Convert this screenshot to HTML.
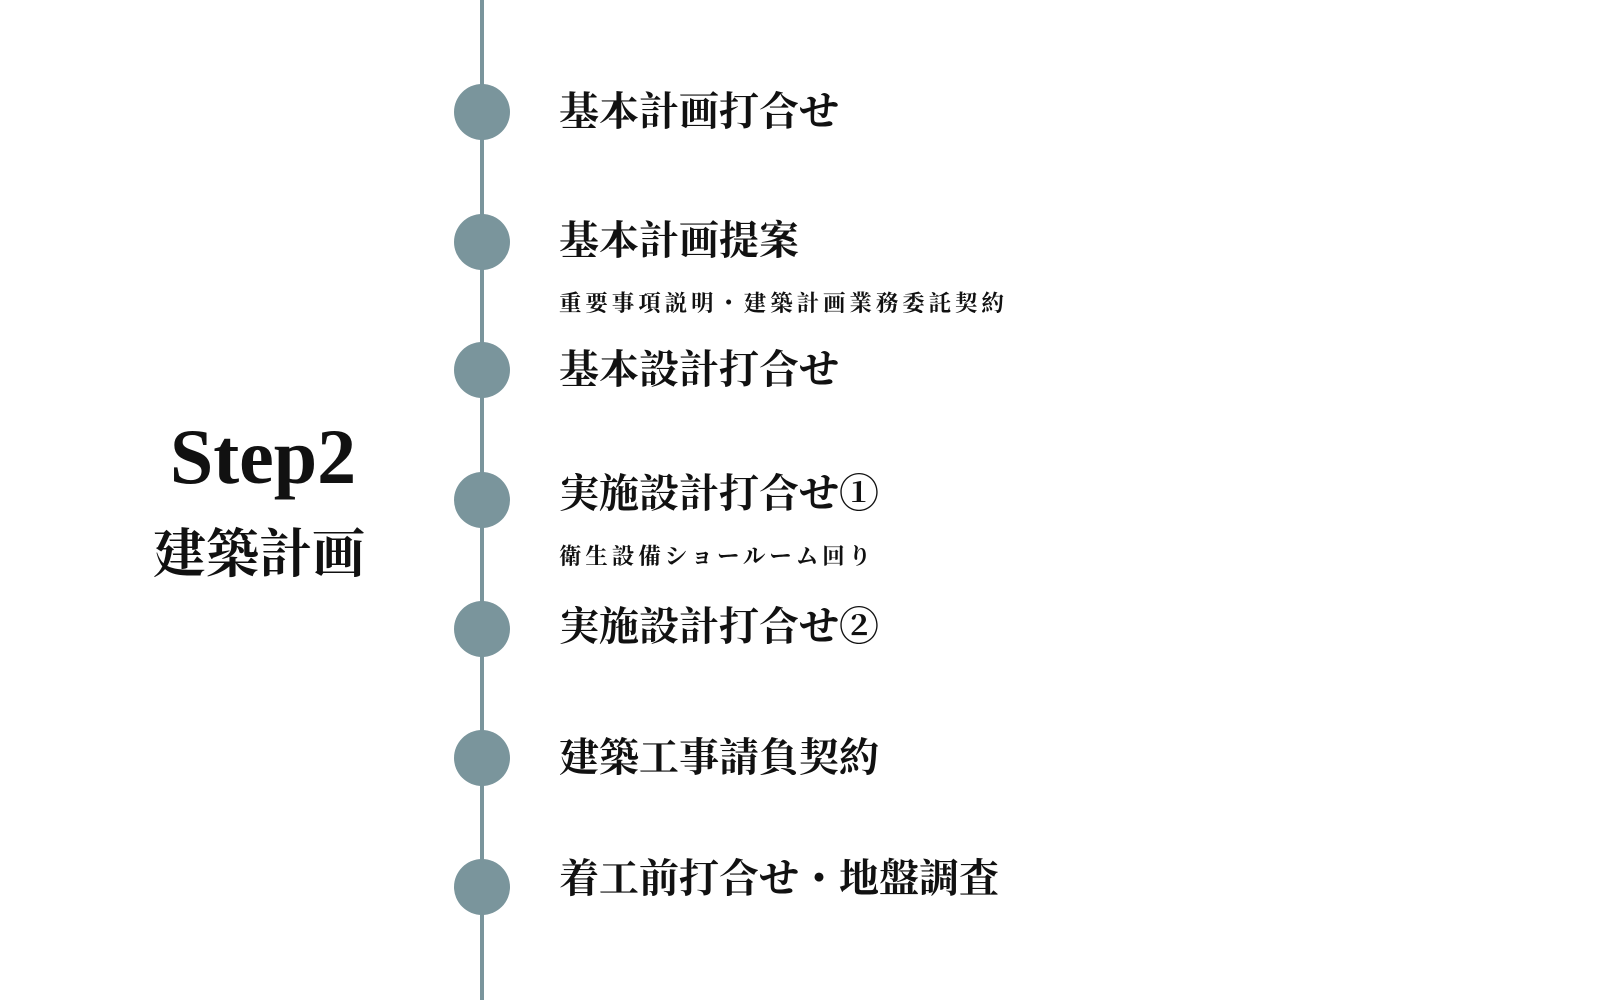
<!DOCTYPE html>
<html><head><meta charset="utf-8"><style>
body{margin:0;width:1600px;height:1000px;background:#fff;position:relative;overflow:hidden;font-family:"Liberation Serif","Noto Serif CJK SC",serif;font-weight:bold;color:#111}
.line{position:absolute;left:480px;top:0;width:4px;height:1000px;background:#7a959c}
.dot{position:absolute;width:56px;height:56px;border-radius:50%;background:#7a959c;left:454px}
.t{position:absolute;left:559px;font-size:40px;line-height:40px;white-space:nowrap}
.s{position:absolute;left:559px;font-size:22.5px;letter-spacing:3.9px;line-height:24px;white-space:nowrap}
</style></head><body>
<div class="line"></div>
<div class="dot" style="top:84px"></div>
<div class="dot" style="top:214px"></div>
<div class="dot" style="top:342px"></div>
<div class="dot" style="top:472px"></div>
<div class="dot" style="top:601px"></div>
<div class="dot" style="top:730px"></div>
<div class="dot" style="top:859px"></div>
<div class="t" style="top:92px">基本計画打合せ</div>
<div class="t" style="top:221px">基本計画提案</div>
<div class="s" style="top:292px">重要事項説明・建築計画業務委託契約</div>
<div class="t" style="top:350px">基本設計打合せ</div>
<div class="t" style="top:474px">実施設計打合せ①</div>
<div class="s" style="top:545px">衛生設備ショールーム回り</div>
<div class="t" style="top:607px">実施設計打合せ②</div>
<div class="t" style="top:738px">建築工事請負契約</div>
<div class="t" style="top:859px">着工前打合せ・地盤調査</div>
<div style="position:absolute;left:150px;width:226px;text-align:center;top:418px;font-size:78px;line-height:78px">Step2</div>
<div style="position:absolute;left:153px;top:528px;font-size:53px;line-height:54px;white-space:nowrap">建築計画</div>
</body></html>
